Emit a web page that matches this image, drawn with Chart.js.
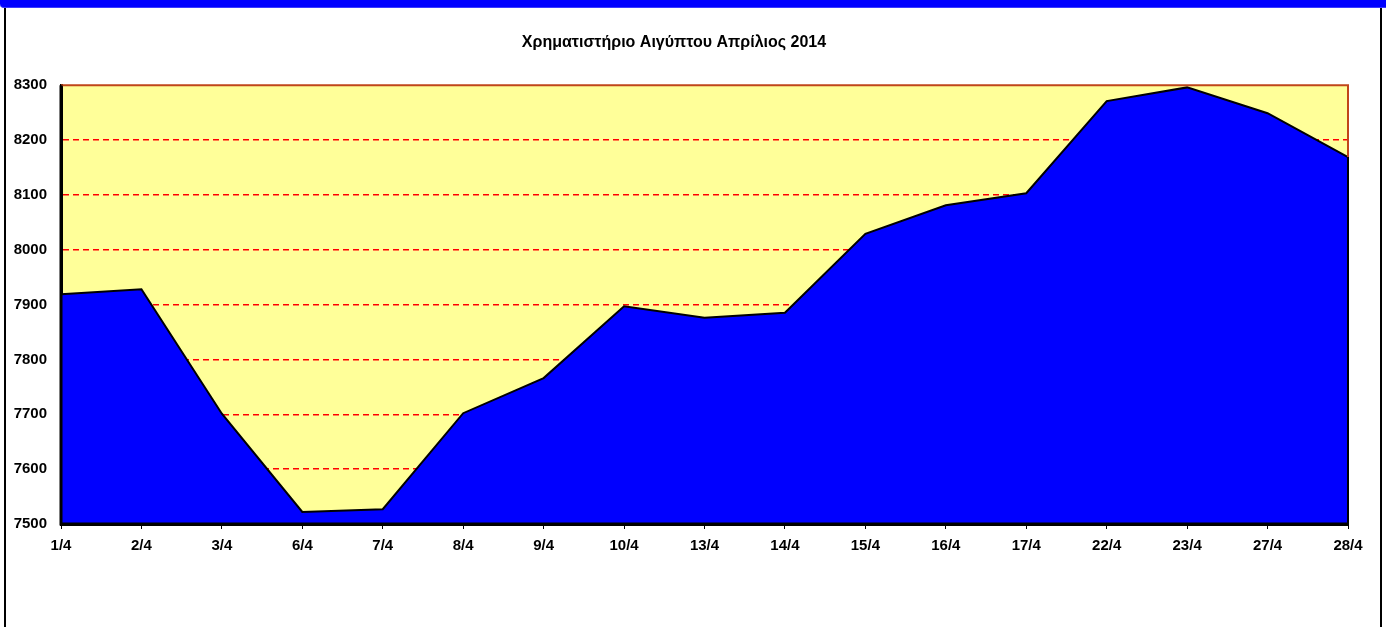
<!DOCTYPE html>
<html>
<head>
<meta charset="utf-8">
<script src="https://cdn.jsdelivr.net/npm/chart.js@4/dist/chart.umd.min.js"></script>
<style>
  html, body { margin: 0; padding: 0; background: #fff; }
  #wrap { position: relative; width: 1386px; height: 627px; overflow: hidden; }
  #frame { position: absolute; left: 4px; top: 0; width: 1374px; height: 640px;
           border-left: 2px solid #000; border-right: 2px solid #000; box-sizing: content-box; }
  #topbar { position: absolute; left: 0; top: 0; width: 1386px; height: 7px; background: #0000ff;
            border-bottom: 1px solid #3b3bff; border-bottom-left-radius: 4px; }
  #box { position: absolute; left: 0; top: 0; width: 1386px; height: 627px; }
</style>
</head>
<body>
<div id="wrap">
  <div id="frame"></div>
  <div id="topbar"></div>
  <div id="box"><canvas id="chart1"></canvas></div>
</div>
<script>
var days = ['1/4','2/4','3/4','6/4','7/4','8/4','9/4','10/4','13/4','14/4','15/4','16/4','17/4','22/4','23/4','27/4','28/4'];
var index = [7919, 7928, 7701, 7522, 7527, 7702, 7766, 7897, 7876, 7885, 8029, 8081, 8103, 8271, 8296, 8249, 8169];
var yMin = 7500;
var yMax = 8300;
var yStep = 100;

var ctx = document.getElementById('chart1');
var fontFam = 'Liberation Sans, Arial, sans-serif';

// yellow plot area, brown frame top/right, black axes drawn over the area
var plotBox = {
    id: 'plotBox',
    beforeDraw: function (chart) {
        var a = chart.chartArea;
        var c = chart.ctx;
        c.save();
        c.fillStyle = '#ffff99';
        c.fillRect(a.left, a.top, a.right - a.left, a.bottom - a.top);
        c.restore();
    },
    afterDatasetsDraw: function (chart) {
        var a = chart.chartArea;
        var c = chart.ctx;
        var meta = chart.getDatasetMeta(0);
        var last = meta.data[meta.data.length - 1];
        c.save();
        c.strokeStyle = '#c0461a';
        c.lineWidth = 2;
        c.beginPath();
        c.moveTo(a.left, a.top);
        c.lineTo(a.right, a.top);
        c.lineTo(a.right, last.y);
        c.stroke();
        c.strokeStyle = '#000';
        c.beginPath();
        c.moveTo(last.x, last.y);
        c.lineTo(last.x, a.bottom);
        c.stroke();
        c.lineWidth = 3;
        c.beginPath();
        c.moveTo(a.left, a.top);
        c.lineTo(a.left, a.bottom);
        c.lineTo(a.right, a.bottom);
        c.stroke();
        c.restore();
    }
};

var myChart = new Chart(ctx, {
    type: 'line',
    data: {
        labels: days,
        datasets: [{
            data: index,
            borderColor: '#000',
            borderWidth: 2,
            backgroundColor: '#0000ff',
            fill: 'start',
            pointRadius: 0,
            tension: 0
        }]
    },
    options: {
        responsive: true,
        maintainAspectRatio: false,
        animation: false,
        layout: { padding: { left: 0, right: 38, top: 0, bottom: 0 } },
        plugins: {
            legend: { display: false },
            tooltip: { enabled: false },
            title: {
                display: true,
                text: 'Χρηματιστήριο Αιγύπτου Απρίλιος 2014',
                color: '#000',
                font: { family: fontFam, size: 16, weight: 'bold' },
                padding: { top: 33, bottom: 33 }
            }
        },
        scales: {
            y: {
                min: yMin,
                max: yMax,
                afterFit: function (scale) { scale.width = 61; },
                ticks: {
                    stepSize: yStep,
                    color: '#000',
                    padding: 14,
                    callback: function (v) { return String(v); },
                    font: { family: fontFam, size: 15, weight: 'bold' }
                },
                grid: {
                    color: function (c) { return c.tick && c.tick.value === yMax ? 'rgba(0,0,0,0)' : '#ff0000'; },
                    lineWidth: 1.5,
                    drawTicks: false
                },
                border: { color: '#000', width: 3, dash: [6, 4] }
            },
            x: {
                afterFit: function (scale) { scale.height = 103; },
                ticks: {
                    color: '#000',
                    padding: 8,
                    maxRotation: 0,
                    autoSkip: false,
                    font: { family: fontFam, size: 15, weight: 'bold' }
                },
                grid: {
                    drawOnChartArea: false,
                    drawTicks: true,
                    tickLength: 5,
                    color: '#000'
                },
                border: { color: '#000', width: 3 }
            }
        }
    },
    plugins: [plotBox]
});
</script>
</body>
</html>
